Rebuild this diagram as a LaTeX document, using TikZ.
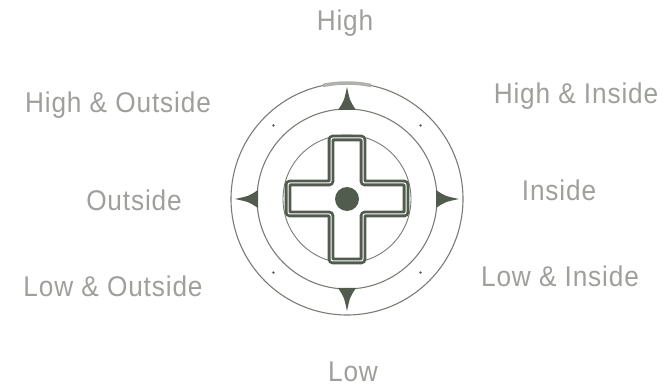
\documentclass[tikz,border=0pt]{standalone}
\usepackage{fontspec}
\setmainfont{Liberation Sans}[FakeStretch=0.92,LetterSpace=3]
\definecolor{txt}{RGB}{158,160,155}
\definecolor{ring}{RGB}{120,126,116}
\definecolor{ink}{RGB}{82,92,78}
\definecolor{barc}{RGB}{175,178,172}
\begin{document}
\begin{tikzpicture}[x=1pt,y=-1pt,
  lbl/.style={text=txt,font=\fontsize{28.5}{32}\selectfont,anchor=base,inner sep=0pt},
  ringline/.style={draw=ring,line width=1.1pt},
  spike/.style={fill=ink,draw=none}]
\useasboundingbox (0,0) rectangle (669,387);
\coordinate (C) at (347,199);
% rings
\draw[ringline] (C) circle (116);
\draw[ringline] (C) circle (90);
\draw[ringline,line width=0.9pt] (C) circle (64);
% top bar on outer ring
\draw[barc,line width=3.5pt] ([shift={(-102:116)}]C) arc[start angle=-102,end angle=-78,radius=116];
% small dots
\foreach \a in {45,135,225,315}
  \fill[ink] ([shift={(\a:104)}]C) circle (1.3);
% spikes
\foreach \a in {0,90,180,270}{
  \fill[spike,rotate around={-\a:(C)}]
    ([shift={(89,-9)}]C) .. controls ([shift={(98,-3)}]C) .. ([shift={(112,0)}]C)
    .. controls ([shift={(98,3)}]C) .. ([shift={(89,9)}]C) -- cycle;
}
% cross
\draw[ink,line width=2.8pt,double=white,double distance=1pt,rounded corners=2pt]
  ([shift={(-16,-61)}]C) -- ([shift={(16,-61)}]C) -- ([shift={(16,-16)}]C)
  -- ([shift={(59,-16)}]C) -- ([shift={(59,15)}]C) -- ([shift={(16,15)}]C)
  -- ([shift={(16,62)}]C) -- ([shift={(-16,62)}]C) -- ([shift={(-16,15)}]C)
  -- ([shift={(-59,15)}]C) -- ([shift={(-59,-16)}]C) -- ([shift={(-16,-16)}]C) -- cycle;
\fill[ink] (C) circle (12);
% labels
\node[lbl] (high) at (345,31) {High};
\node[lbl] (low) at (353,381) {Low};
\node[lbl] (ho) at (118,113) {High \& Outside};
\node[lbl] (hi) at (576,104) {High \& Inside};
\node[lbl] (out) at (134,211) {Outside};
\node[lbl] (ins) at (559,201) {Inside};
\node[lbl] (lo) at (113,296) {Low \& Outside};
\node[lbl] (li) at (560,287) {Low \& Inside};
\end{tikzpicture}
\end{document}
